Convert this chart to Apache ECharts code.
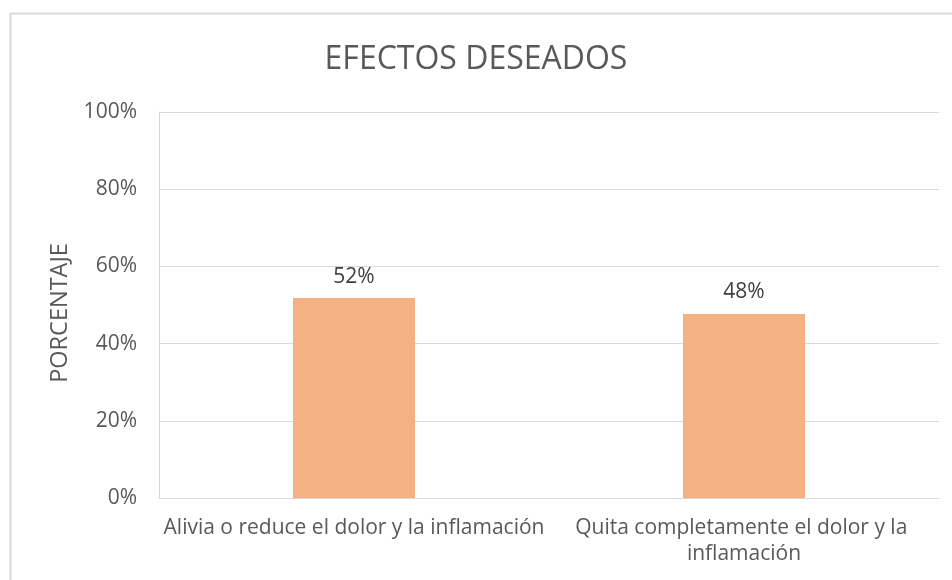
<!DOCTYPE html>
<html>
<head>
<meta charset="utf-8">
<script src="https://cdn.jsdelivr.net/npm/echarts@6/dist/echarts.min.js"></script>
<style>
  html, body { margin: 0; padding: 0; background: #fff; }
  #chart { width: 952px; height: 580px; }
</style>
</head>
<body>
<div id="chart"></div>
<script>
// datos
const categorias = ['Alivia o reduce el dolor y la inflamación', 'Quita completamente el dolor y la inflamación'];
const porcentajes = [51.8, 47.7];
const ticksY = [0, 20, 40, 60, 80, 100];

let chart = echarts.init(document.getElementById('chart'));
const gris = '#595959';
const fuente = '"Open Sans", "Noto Sans", sans-serif';

let option = {
    backgroundColor: '#fff',
    textStyle: { fontFamily: fuente },
    title: {
        text: 'EFECTOS DESEADOS',
        left: 'center',
        top: 39,
        textStyle: { fontSize: 32, fontWeight: 'normal', color: gris, fontFamily: fuente }
    },
    graphic: [{
        type: 'rect',
        shape: { x: 10.5, y: 13.5, width: 1200, height: 1200 },
        style: { fill: 'none', stroke: '#d9d9d9', lineWidth: 2 },
        silent: true
    }],
    grid: { left: 159, right: 13, top: 112, bottom: 82 },
    xAxis: {
        type: 'category',
        data: categorias,
        axisLine: { lineStyle: { color: '#d9d9d9', width: 1 } },
        axisTick: { show: false },
        axisLabel: {
            interval: 0,
            color: gris,
            fontSize: 21,
            margin: 17,
            lineHeight: 26,
            width: 405,
            overflow: 'break',
            fontFamily: fuente
        }
    },
    yAxis: {
        type: 'value',
        min: ticksY[0],
        max: ticksY[ticksY.length - 1],
        interval: 20,
        name: 'PORCENTAJE',
        nameLocation: 'middle',
        nameGap: 79,
        nameTextStyle: { fontSize: 23.5, color: gris, fontFamily: fuente, padding: [0, 16, 0, 0] },
        axisLine: { show: true, lineStyle: { color: '#d9d9d9', width: 1 } },
        axisTick: { show: false },
        axisLabel: {
            color: gris,
            fontSize: 21,
            margin: 22,
            formatter: v => v + '%',
            fontFamily: fuente
        },
        splitLine: { lineStyle: { color: '#d9d9d9', width: 1 } }
    },
    series: [{
        type: 'bar',
        data: porcentajes,
        barWidth: 122,
        itemStyle: { color: '#F4B183' },
        label: {
            show: true,
            position: 'top',
            distance: 11,
            color: '#404040',
            fontSize: 21,
            fontFamily: fuente,
            formatter: p => Math.round(p.value) + '%'
        }
    }]
};

chart.setOption(option);
</script>
</body>
</html>
